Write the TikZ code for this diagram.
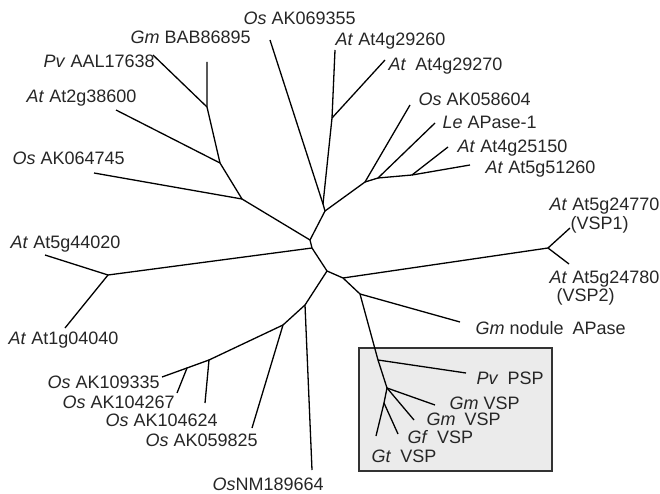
\documentclass[tikz,border=0pt]{standalone}
\usepackage{fontspec}
\setmainfont{Liberation Sans}
\begin{document}
\begin{tikzpicture}[x=1pt,y=-1pt,line width=1.3pt,
  lbl/.style={anchor=base west,inner sep=0pt,font=\fontsize{18}{20}\selectfont,text=black!85}]
  \useasboundingbox (0,0) rectangle (660,494);
  % boxed group
  \draw[line width=1.2pt,draw=black!80,fill=black!8] (359,348) rectangle (552,471);
  % inner junctions
  \coordinate (j1) at (323,204);
  \coordinate (j2) at (325,211);
  \coordinate (j3) at (310,240);
  \coordinate (j4) at (312,248);
  \coordinate (j5) at (327,271);
  \coordinate (j6) at (343,278);
  \coordinate (j7) at (360,294);
  \coordinate (j8) at (378,360);
  \coordinate (j9) at (387,388);
  \coordinate (j10) at (384,403);
  \coordinate (jA) at (242,199);
  \coordinate (jB) at (220,163);
  \coordinate (jC) at (207,107);
  \coordinate (jD) at (332,118);
  \coordinate (jE) at (365,182);
  \coordinate (jF) at (378,178);
  \coordinate (jG) at (412,175);
  \coordinate (jH) at (108,275);
  \coordinate (jI) at (305,305);
  \coordinate (jJ) at (283,325);
  \coordinate (jK) at (209,360);
  \coordinate (jL) at (187,368);
  \coordinate (jM) at (548,248);
  % tips
  \coordinate (os69355) at (270,40);
  \coordinate (gmbab) at (207,62);
  \coordinate (pvaal) at (153,55);
  \coordinate (at38600) at (116,110);
  \coordinate (os64745) at (94,173);
  \coordinate (at29260) at (335,50);
  \coordinate (at29270) at (385,60);
  \coordinate (os58604) at (410,105);
  \coordinate (leapase) at (435,123);
  \coordinate (at25150) at (448,147);
  \coordinate (at51260) at (470,165);
  \coordinate (vsp1) at (570,228);
  \coordinate (vsp2) at (569,264);
  \coordinate (gmnod) at (460,322);
  \coordinate (pvpsp) at (466,373);
  \coordinate (gmvspa) at (435,405);
  \coordinate (gmvspb) at (414,420);
  \coordinate (gfvsp) at (398,434);
  \coordinate (gtvsp) at (376,436);
  \coordinate (at44020) at (45,255);
  \coordinate (at04040) at (65,328);
  \coordinate (nm189664) at (312,470);
  \coordinate (os59825) at (252,428);
  \coordinate (os04624) at (205,403);
  \coordinate (os04267) at (177,393);
  \coordinate (os09335) at (162,377);
  % backbone
  \draw (j1) -- (j2) -- (j3) -- (j4) -- (j5) -- (j6) -- (j7) -- (j8) -- (j9);
  \draw (j1) -- (os69355);
  \draw (j1) -- (jD) -- (at29260);
  \draw (jD) -- (at29270);
  \draw (j2) -- (jE) -- (os58604);
  \draw (jE) -- (jF) -- (leapase);
  \draw (jF) -- (jG) -- (at25150);
  \draw (jG) -- (at51260);
  \draw (j3) -- (jA) -- (os64745);
  \draw (jA) -- (jB) -- (at38600);
  \draw (jB) -- (jC) -- (gmbab);
  \draw (jC) -- (pvaal);
  \draw (j4) -- (jH) -- (at44020);
  \draw (jH) -- (at04040);
  \draw (j5) -- (jI) -- (nm189664);
  \draw (jI) -- (jJ) -- (os59825);
  \draw (jJ) -- (jK) -- (os04624);
  \draw (jK) -- (jL) -- (os04267);
  \draw (jL) -- (os09335);
  \draw (j6) -- (jM) -- (vsp1);
  \draw (jM) -- (vsp2);
  \draw (j7) -- (gmnod);
  \draw (j8) -- (pvpsp);
  \draw (j9) -- (gmvspa);
  \draw (j9) -- (gmvspb);
  \draw (j9) -- (j10) -- (gfvsp);
  \draw (j10) -- (gtvsp);
  % labels
  \node[lbl] (l1) at (243,25) {\textit{Os} AK069355};
  \node[lbl] (l2) at (130,44) {\textit{Gm} BAB86895};
  \node[lbl] (l3) at (43,68) {\textit{Pv} AAL17638};
  \node[lbl] (l4) at (26,103) {\textit{At} At2g38600};
  \node[lbl] (l5) at (12,165) {\textit{Os} AK064745};
  \node[lbl] (l6) at (335,46) {\textit{At} At4g29260};
  \node[lbl] (l7) at (388,71) {\textit{At}\enspace At4g29270};
  \node[lbl] (l8) at (418,106) {\textit{Os} AK058604};
  \node[lbl] (l9) at (442,129) {\textit{Le} APase-1};
  \node[lbl] (l10) at (457,153) {\textit{At} At4g25150};
  \node[lbl] (l11) at (485,174) {\textit{At} At5g51260};
  \node[lbl] (l12) at (549,211) {\textit{At} At5g24770};
  \node[lbl] (l13) at (570,229) {(VSP1)};
  \node[lbl] (l14) at (549,283) {\textit{At} At5g24780};
  \node[lbl] (l15) at (556,301) {(VSP2)};
  \node[lbl] (l16) at (475,334) {\textit{Gm} nodule\enspace APase};
  \node[lbl] (l17) at (476,384) {\textit{Pv}\enspace PSP};
  \node[lbl] (l18) at (449,409) {\textit{Gm} VSP};
  \node[lbl] (l19) at (426,425) {\textit{Gm}\enspace VSP};
  \node[lbl] (l20) at (407,443) {\textit{Gf}\enspace VSP};
  \node[lbl] (l21) at (371,462) {\textit{Gt}\enspace VSP};
  \node[lbl] (l22) at (10,248) {\textit{At} At5g44020};
  \node[lbl] (l23) at (8,344) {\textit{At} At1g04040};
  \node[lbl] (l24) at (47,388) {\textit{Os} AK109335};
  \node[lbl] (l25) at (62,408) {\textit{Os} AK104267};
  \node[lbl] (l26) at (105,426) {\textit{Os} AK104624};
  \node[lbl] (l27) at (145,446) {\textit{Os} AK059825};
  \node[lbl] (l28) at (212,490) {\textit{Os}NM189664};
\end{tikzpicture}
\end{document}
